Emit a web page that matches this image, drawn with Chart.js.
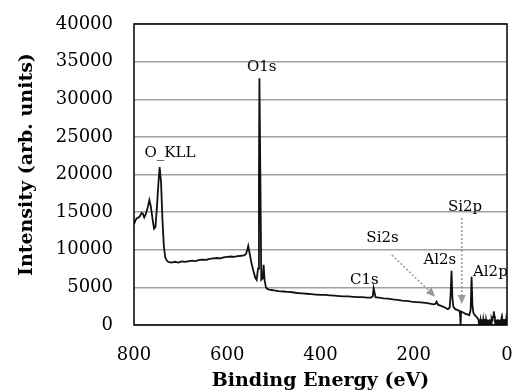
<!DOCTYPE html>
<html>
<head>
<meta charset="utf-8">
<script src="https://cdn.jsdelivr.net/npm/chart.js@4.4.1/dist/chart.umd.min.js"></script>
<style>
  html, body { margin: 0; padding: 0; background: #fff; }
  #vis-xps { width: 518px; height: 392px; }
</style>
</head>
<body>
<div id="vis-xps"><canvas id="c"></canvas></div>
<script>
// spectrum (eV descending)
const energies = [
  800, 797, 794, 790, 787, 784, 781, 778, 775, 771, 767, 764, 760, 757, 754, 751, 748, 745, 742, 739,
  736, 733, 730, 727, 720, 712, 705, 698, 690, 682, 675, 668, 660, 652, 645, 638, 630, 622, 615, 608,
  600, 592, 585, 578, 570, 564, 560, 557, 555, 552, 548, 544, 540, 537, 534, 532, 531, 529, 527, 524,
  522, 520, 517, 514, 510, 505, 500, 490, 480, 470, 460, 450, 440, 430, 420, 410, 400, 390, 380, 370,
  360, 350, 340, 330, 320, 310, 300, 292, 288, 286, 284, 282, 275, 265, 255, 245, 235, 225, 215, 205,
  195, 185, 175, 165, 158, 154, 151, 148, 140, 132, 127, 123, 121, 119, 117, 115, 111, 107, 103, 101,
  99.5, 98.5, 95, 90, 85, 81, 78, 76, 74, 72, 69, 66, 63, 61,
  60, 59, 58, 57, 56, 55, 54, 53, 52, 51, 50, 49, 48, 47, 46, 45, 44, 43, 42, 41,
  40, 39, 38, 37, 36, 35, 34, 33, 32, 31, 30, 29, 28, 27, 26, 25, 24, 23, 22, 21,
  20, 19, 18, 17, 16, 15, 14, 13, 12, 11, 10, 9, 8, 7, 6, 5, 4, 3, 2, 1, 0
];
const intensity = [
  13400, 13900, 14200, 14300, 14500, 14900, 14800, 14300, 14700, 15500, 16600, 15800, 14000, 12800, 13000, 15500, 18500, 21000, 19000, 14000,
  10500, 9000, 8600, 8400, 8300, 8400, 8300, 8450, 8400, 8500, 8550, 8500, 8650, 8700, 8650, 8800, 8850, 8900, 8850, 9000,
  9050, 9100, 9050, 9150, 9200, 9250, 9400, 10000, 10500, 9500, 8200, 7200, 6300, 6000, 7500, 20000, 32800, 20000, 6000, 6200,
  8000, 6000, 5000, 4800, 4700, 4650, 4600, 4500, 4450, 4400, 4350, 4250, 4200, 4150, 4100, 4050, 4000, 4000, 3950, 3900,
  3850, 3800, 3800, 3750, 3700, 3700, 3650, 3650, 3800, 4900, 4300, 3700, 3650, 3550, 3500, 3400, 3350, 3250, 3200, 3100,
  3050, 3000, 2950, 2850, 2750, 2800, 3100, 2700, 2500, 2300, 2100, 2300, 4000, 7200, 3500, 2400, 2100, 2000, 1900, 1700,
  0, 1800, 1700, 1500, 1400, 1300, 2000, 6400, 2500, 1600, 1300, 1100, 900, 700,
  0, 700, 100, 650, 0, 750, 50, 700, 0, 650, 100, 800, 0, 700, 50, 650, 0, 750, 100, 700,
  0, 650, 50, 750, 0, 700, 100, 800, 600, 900, 1100, 1500, 1800, 1200, 700, 0, 700, 50, 650, 0,
  750, 100, 700, 0, 650, 50, 750, 0, 700, 100, 650, 0, 800, 50, 700, 0, 750, 100, 650, 0, 700
];

const xTicks = [800, 600, 400, 200, 0];
const yTicks = [0, 5000, 10000, 15000, 20000, 25000, 30000, 35000, 40000];

// peak names and where they sit (eV, intensity)
const peakNames = ['O1s', 'O_KLL', 'C1s', 'Si2s', 'Al2s', 'Si2p', 'Al2p'];
const peakLabelEnergy = [526, 723, 306, 267, 144, 90, 73];
const peakLabelIntensity = [34300, 22860, 6000, 11560, 8640, 15680, 7040];
const peakLabelAlign = ['center', 'center', 'center', 'center', 'center', 'center', 'left'];

// dotted pointer arrows [fromE, fromI, toE, toI]
const arrows = [
  [247, 9300, 154, 3760],
  [97, 14220, 97, 2790]
];

const serif = '"DejaVu Serif", serif';

const annotate = {
  id: 'annotate',
  afterDatasetsDraw(chart) {
    const { ctx, chartArea: a, scales: { x, y } } = chart;
    ctx.save();

    // arrows
    ctx.strokeStyle = '#9a9a9a';
    ctx.fillStyle = '#9a9a9a';
    ctx.lineWidth = 1.5;
    arrows.forEach(([e0, i0, e1, i1]) => {
      const x0 = x.getPixelForValue(e0), y0 = y.getPixelForValue(i0);
      const x1 = x.getPixelForValue(e1), y1 = y.getPixelForValue(i1);
      const ang = Math.atan2(y1 - y0, x1 - x0);
      const hl = 9;
      ctx.setLineDash([2, 2]);
      ctx.beginPath();
      ctx.moveTo(x0, y0);
      ctx.lineTo(x1 - Math.cos(ang) * hl, y1 - Math.sin(ang) * hl);
      ctx.stroke();
      ctx.setLineDash([]);
      ctx.beginPath();
      ctx.moveTo(x1, y1);
      ctx.lineTo(x1 - hl * Math.cos(ang) + 4 * Math.sin(ang), y1 - hl * Math.sin(ang) - 4 * Math.cos(ang));
      ctx.lineTo(x1 - hl * Math.cos(ang) - 4 * Math.sin(ang), y1 - hl * Math.sin(ang) + 4 * Math.cos(ang));
      ctx.closePath();
      ctx.fill();
    });

    // peak labels
    ctx.fillStyle = '#000';
    ctx.font = '15px ' + serif;
    ctx.textBaseline = 'middle';
    peakNames.forEach((name, i) => {
      ctx.textAlign = peakLabelAlign[i];
      ctx.fillText(name, x.getPixelForValue(peakLabelEnergy[i]), y.getPixelForValue(peakLabelIntensity[i]));
    });

    // plot frame
    ctx.strokeStyle = '#000';
    ctx.lineWidth = 1.5;
    ctx.strokeRect(a.left, a.top, a.right - a.left, a.bottom - a.top);
    ctx.restore();
  }
};

new Chart(document.getElementById('c'), {
  type: 'line',
  data: {
    datasets: [{
      data: energies.map((e, i) => ({ x: e, y: intensity[i] })),
      borderColor: '#111',
      borderWidth: 1.8,
      pointRadius: 0,
      tension: 0,
      fill: false
    }]
  },
  options: {
    responsive: true,
    maintainAspectRatio: false,
    animation: false,
    layout: { padding: { top: 24, right: 11, left: 0, bottom: 0 } },
    plugins: { legend: { display: false }, tooltip: { enabled: false } },
    scales: {
      x: {
        type: 'linear',
        reverse: true,
        min: 0,
        max: 800,
        afterBuildTicks: s => { s.ticks = xTicks.map(v => ({ value: v })); },
        afterFit: s => { s.height = 67; },
        grid: { display: false, drawTicks: true, tickLength: 20 },
        border: { display: false },
        ticks: { color: '#000', padding: 0, font: { family: serif, size: 18 }, maxRotation: 0, callback: v => String(v) },
        title: {
          display: true,
          text: 'Binding Energy (eV)',
          color: '#000',
          font: { family: serif, size: 19, weight: 'bold' },
          padding: { top: 0, bottom: 0 }
        }
      },
      y: {
        min: 0,
        max: 40000,
        afterBuildTicks: s => { s.ticks = yTicks.map(v => ({ value: v })); },
        afterFit: s => { s.width = 134; },
        grid: { color: '#a0a0a0', lineWidth: 1.5, drawTicks: true, tickLength: 21, tickColor: 'rgba(0,0,0,0)' },
        border: { display: false },
        ticks: { color: '#000', padding: 0, font: { family: serif, size: 18 }, callback: v => String(v) },
        title: {
          display: true,
          text: '\u00a0\u00a0\u00a0Intensity (arb. units)',
          color: '#000',
          font: { family: serif, size: 19, weight: 'bold' },
          padding: { top: 16, bottom: 0 }
        }
      }
    }
  },
  plugins: [annotate]
});
</script>
</body>
</html>
